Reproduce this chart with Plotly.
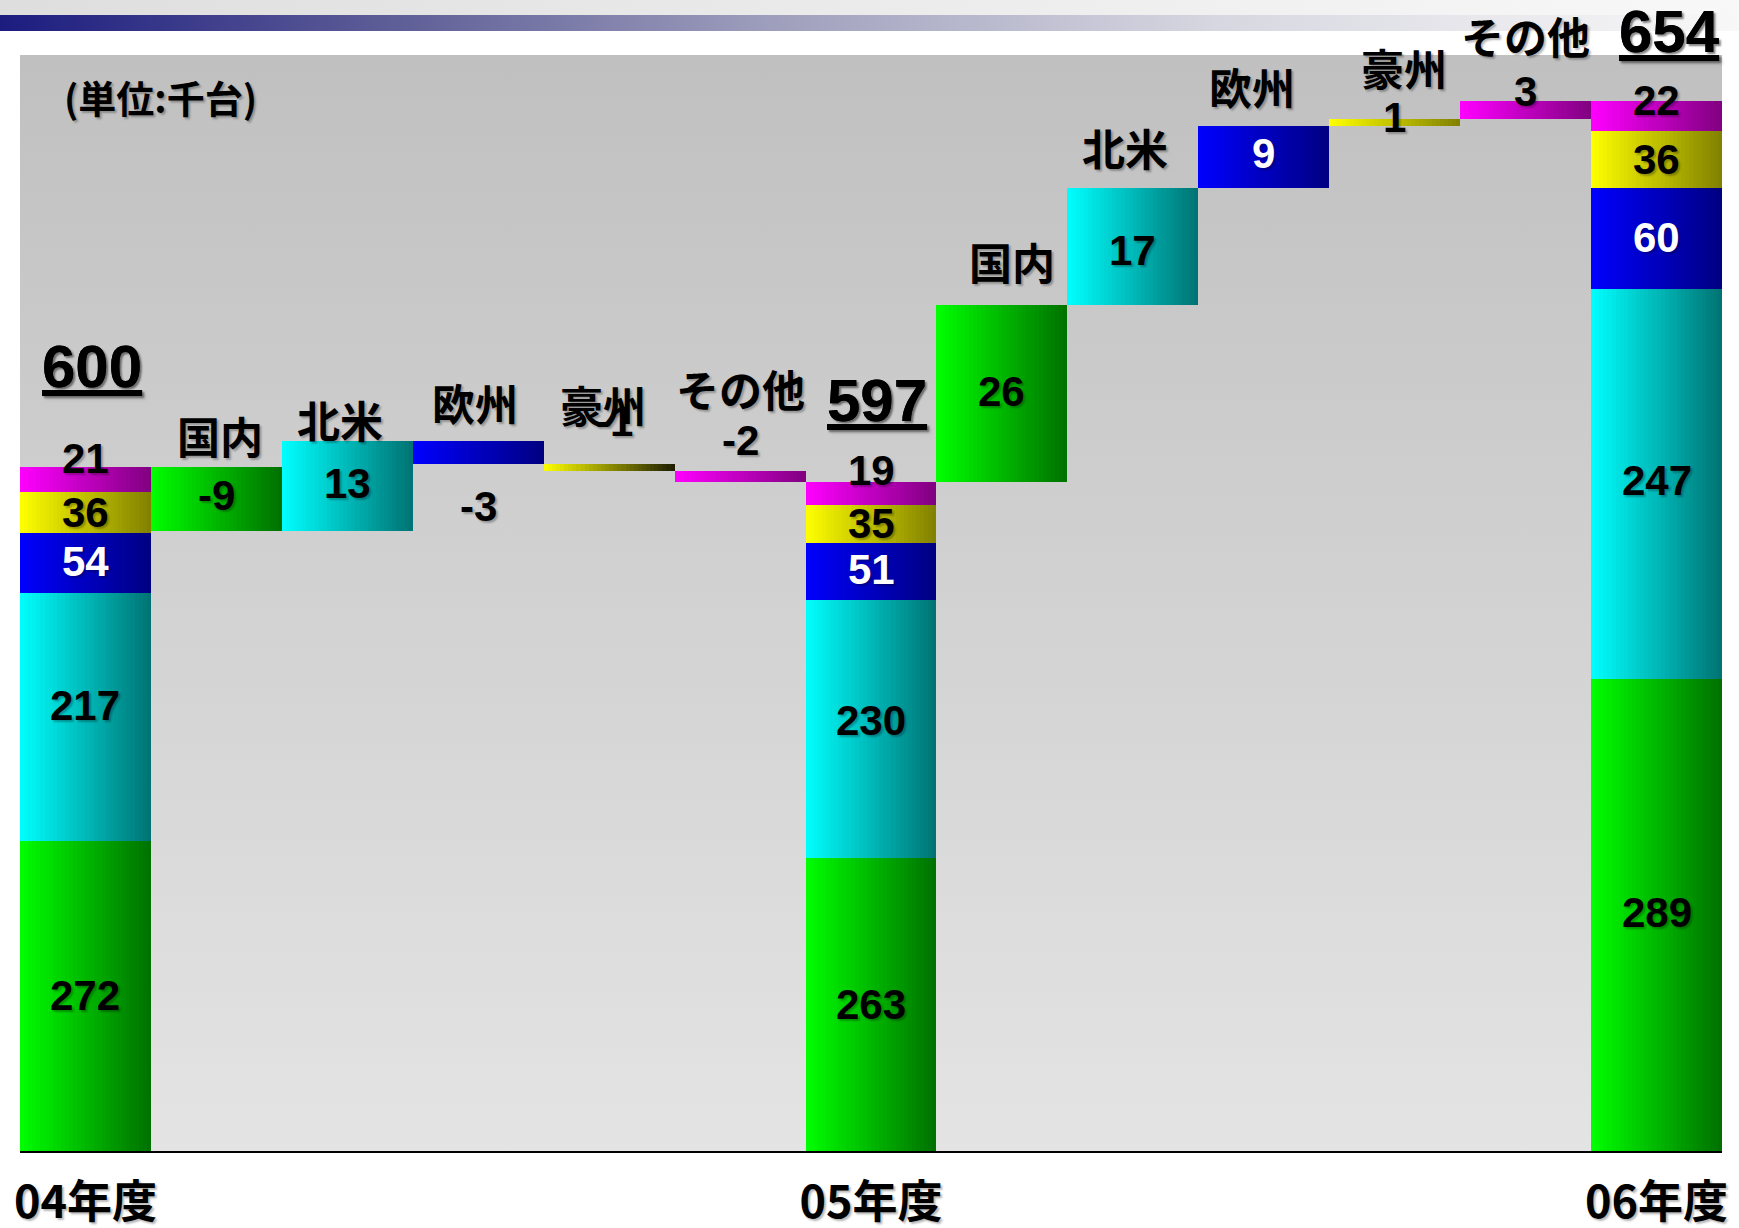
import base64
import plotly.graph_objects as go

# ------------------------------------------------------------------
# DATA (千台)
# ------------------------------------------------------------------
categories = ["04年度", "国内", "北米", "欧州", "豪州", "その他",
              "05年度", "国内", "北米", "欧州", "豪州", "その他", "06年度"]
regions = ["国内", "北米", "欧州", "豪州", "その他"]

# printed values
fy04_values = [272, 217, 54, 36, 21]
fy05_values = [263, 230, 51, 35, 19]
fy06_values = [289, 247, 60, 36, 22]
fy_totals = [600, 597, 654]
change_04_05 = [-9, 13, -3, -1, -2]
change_05_06 = [26, 17, 9, 1, 3]

# bar lengths as they are drawn in the (not-to-scale) source graphic,
# read off the picture in units of the 04年度 column (600 = its height)
fy04_drawn = [272, 217, 53, 36, 22]
fy05_drawn = [257, 226, 50, 33, 21]
fy06_drawn = [414, 342, 88, 50, 27]
change_04_05_drawn = [-56, 78.5, -20, -6, -9.5]
change_05_06_drawn = [154.5, 103, 54.5, 5.5, 16.5]

# ------------------------------------------------------------------
# STYLE
# ------------------------------------------------------------------
W, H = 1739, 1228
M = dict(l=20, r=17, t=55, b=77)
PLOT_W = W - M["l"] - M["r"]
PLOT_H = H - M["t"] - M["b"]
Y_MAX = 961

SERIES_COLORS = [("#00FF00", "#007000"),   # 国内
                 ("#00FFFF", "#007272"),   # 北米
                 ("#0000FF", "#000080"),   # 欧州
                 ("#FFFF00", "#808000"),   # 豪州
                 ("#FF00FF", "#800080")]   # その他
DARK_END_OVERRIDE = {4: "#1C1C00"}          # 豪州 step 04->05 fades to black
LABEL_COLOR = ["black", "black", "white", "black", "black"]

NUM_FONT = "Liberation Sans, Arial, sans-serif"
JP_FONT = "Noto Sans CJK JP, sans-serif"
SHADOW = "2px 2px 2px rgba(0,0,0,0.28)"

# label pixel nudges (xshift, yshift)
STACK_LABEL_SHIFT = {0: [0, 12, 2, 0, 21], 6: [0, 9, 2, 1, 23], 12: [2, 3, 1, 0, 16]}
DELTA_VALUE_SHIFT = {1: (0, 3), 2: (0, 2), 3: (0, -54), 4: (5, 46), 5: (0, 36),
                     7: (0, 2), 8: (0, -4), 9: (0, 3), 10: (0, 5), 11: (0, 19)}
DELTA_NAME_SHIFT = {1: (4, 32), 2: (-7, 22), 3: (-3, 39), 4: (-6, 60), 5: (0, 83),
                    7: (10, 44), 8: (-8, 41), 9: (-12, 40), 10: (9, 52), 11: (0, 66)}
TOTAL_SHIFT = {0: (7, 100), 6: (6, 81), 12: (13, 69)}

N_SLICES = 32


def hex2rgb(h):
    h = h.lstrip("#")
    return tuple(int(h[i:i + 2], 16) for i in (0, 2, 4))


def mix(c0, c1, t):
    a, b = hex2rgb(c0), hex2rgb(c1)
    return "rgb(%d,%d,%d)" % tuple(round(a[i] + (b[i] - a[i]) * t) for i in range(3))


def svg_uri(svg):
    return "data:image/svg+xml;base64," + base64.b64encode(svg.encode("utf-8")).decode()


def grad_svg(stops, vertical):
    x2, y2 = ("0", "1") if vertical else ("1", "0")
    st = "".join('<stop offset="%s" stop-color="%s"/>' % (o, c) for o, c in stops)
    return ('<svg xmlns="http://www.w3.org/2000/svg" width="100" height="100" '
            'viewBox="0 0 100 100" preserveAspectRatio="none"><defs>'
            '<linearGradient id="g" x1="0" y1="0" x2="%s" y2="%s">%s</linearGradient>'
            '</defs><rect width="100" height="100" fill="url(#g)"/></svg>' % (x2, y2, st))


def paper_x(px):
    return (px - M["l"]) / PLOT_W


def paper_y(py):
    return (H - M["b"] - py) / PLOT_H


# ------------------------------------------------------------------
# SEGMENTS
# ------------------------------------------------------------------
fy_cols = [i for i, c in enumerate(categories) if c.endswith("年度")]
segments = []      # dict(col, base, h, series)
value_labels = []  # annotations for numbers
name_labels = []   # annotations for region names
total_labels = []

stacks = [(fy_cols[0], fy04_values, fy04_drawn, fy_totals[0]),
          (fy_cols[1], fy05_values, fy05_drawn, fy_totals[1]),
          (fy_cols[2], fy06_values, fy06_drawn, fy_totals[2])]
for col, vals, drawn, total in stacks:
    base = 0
    for s, (v, h) in enumerate(zip(vals, drawn)):
        segments.append(dict(col=col, base=base, h=h, series=s))
        value_labels.append(dict(x=col, y=base + h / 2, text=str(v), color=LABEL_COLOR[s],
                                 xs=0, ys=STACK_LABEL_SHIFT[col][s]))
        base += h
    xs, ys = TOTAL_SHIFT[col]
    total_labels.append(dict(x=col, y=base, text=str(total), xs=xs, ys=ys))

steps = [(fy_cols[0] + 1, change_04_05, change_04_05_drawn, sum(fy04_drawn)),
         (fy_cols[1] + 1, change_05_06, change_05_06_drawn, sum(fy05_drawn))]
for start_col, changes, drawn, level in steps:
    for s, (v, d) in enumerate(zip(changes, drawn)):
        col = start_col + s
        lo, hi = min(level, level + d), max(level, level + d)
        segments.append(dict(col=col, base=lo, h=hi - lo, series=s))
        inside = (s == 2 and v > 0)
        xs, ys = DELTA_VALUE_SHIFT[col]
        value_labels.append(dict(x=col, y=(lo + hi) / 2, text=str(v),
                                 color="white" if inside else "black", xs=xs, ys=ys))
        xs, ys = DELTA_NAME_SHIFT[col]
        name_labels.append(dict(x=col, y=hi, text=regions[s], xs=xs, ys=ys))
        level += d

# sliced bars to render the left-to-right colour gradient
bx, bbase, bh, boff, bw, bcol = [], [], [], [], [], []
for seg in segments:
    c0, c1 = SERIES_COLORS[seg["series"]]
    c1 = DARK_END_OVERRIDE.get(seg["col"], c1)
    for k in range(N_SLICES):
        bx.append(seg["col"])
        bbase.append(seg["base"])
        bh.append(seg["h"])
        boff.append(-0.5 + k / N_SLICES)
        bw.append((1.6 if k < N_SLICES - 1 else 1.0) / N_SLICES)
        bcol.append(mix(c0, c1, (k + 0.5) / N_SLICES))

fig = go.Figure(go.Bar(x=bx, y=bh, base=bbase, offset=boff, width=bw,
                       marker=dict(color=bcol, line=dict(width=0)),
                       hoverinfo="skip", showlegend=False))

annotations = []
for lab in value_labels:
    annotations.append(dict(x=lab["x"], y=lab["y"], text=lab["text"], showarrow=False,
                            xanchor="center", yanchor="middle",
                            xshift=lab["xs"], yshift=lab["ys"],
                            font=dict(family=NUM_FONT, size=42, color=lab["color"],
                                      weight="bold", shadow=SHADOW)))
for lab in name_labels:
    annotations.append(dict(x=lab["x"], y=lab["y"], text=lab["text"], showarrow=False,
                            xanchor="center", yanchor="middle",
                            xshift=lab["xs"], yshift=lab["ys"],
                            font=dict(family=JP_FONT, size=43, color="black",
                                      weight="bold", shadow=SHADOW)))
for lab in total_labels:
    annotations.append(dict(x=lab["x"], y=lab["y"], text=lab["text"], showarrow=False,
                            xanchor="center", yanchor="middle",
                            xshift=lab["xs"], yshift=lab["ys"],
                            font=dict(family=NUM_FONT, size=60, color="black",
                                      weight="bold", shadow=SHADOW, lineposition="under")))
annotations.append(dict(x=paper_x(160), y=paper_y(96), xref="paper", yref="paper",
                        text="(単位:千台)", showarrow=False,
                        xanchor="center", yanchor="middle",
                        font=dict(family=JP_FONT, size=38, color="black",
                                  weight="bold", shadow=SHADOW)))

images = [
    dict(source=svg_uri(grad_svg([(0, "#C0C0C0"), (1, "#E4E4E4")], True)),
         xref="paper", yref="paper", x=0, y=1, sizex=1, sizey=1,
         xanchor="left", yanchor="top", sizing="stretch", layer="below"),
    dict(source=svg_uri(grad_svg([(0, "#DEDEDE"), (1, "#F8F8F8")], False)),
         xref="paper", yref="paper", x=paper_x(0), y=paper_y(0),
         sizex=W / PLOT_W, sizey=15 / PLOT_H,
         xanchor="left", yanchor="top", sizing="stretch", layer="below"),
    dict(source=svg_uri(grad_svg([(0, "#1C1C80"), (0.23, "#5F5F98"), (0.45, "#A0A0BE"),
                                  (0.7, "#D7D7E1"), (1, "#F8F8F8")], False)),
         xref="paper", yref="paper", x=paper_x(0), y=paper_y(15),
         sizex=W / PLOT_W, sizey=16 / PLOT_H,
         xanchor="left", yanchor="top", sizing="stretch", layer="below"),
]

fig.update_layout(
    width=W, height=H, margin=M,
    paper_bgcolor="white", plot_bgcolor="rgba(0,0,0,0)",
    barmode="overlay", bargap=0, bargroupgap=0,
    showlegend=False,
    annotations=annotations,
    images=images,
    xaxis=dict(range=[-0.5, len(categories) - 0.5], tickmode="array",
               tickvals=fy_cols, ticktext=[categories[i] for i in fy_cols],
               showgrid=False, zeroline=False, showline=True, linecolor="black",
               linewidth=2, ticks="", ticklabelstandoff=11, automargin=False,
               tickfont=dict(family=JP_FONT, size=45, color="black",
                             weight="bold", shadow=SHADOW)),
    yaxis=dict(range=[0, Y_MAX], visible=False, showgrid=False, zeroline=False),
)

fig.write_html("out.html")
